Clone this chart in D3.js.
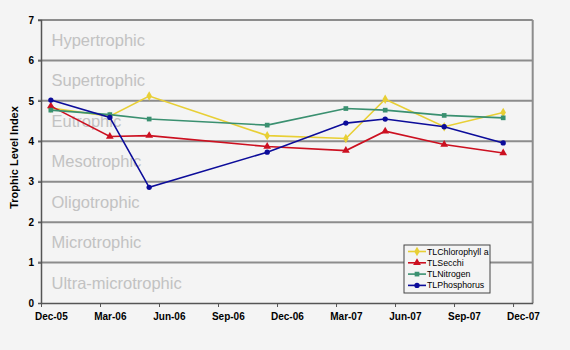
<!DOCTYPE html>
<html><head><meta charset="utf-8">
<script src="https://cdn.jsdelivr.net/npm/d3@7"></script>
<style>
html,body{margin:0;padding:0;background:#f4f4f4;}
svg{display:block;font-family:"Liberation Sans",Arial,sans-serif;}
</style></head>
<body><svg id="c" width="570" height="350"></svg>
<script>
// Sampling months (YYYY-MM)
const months = ["2005-12","2006-03","2006-05","2006-11","2007-03","2007-05","2007-08","2007-11"];
const chlorophyll = [4.82, 4.62, 5.12, 4.14, 4.07, 5.04, 4.36, 4.71];
const secchi      = [4.87, 4.12, 4.14, 3.87, 3.77, 4.25, 3.92, 3.71];
const nitrogen    = [4.77, 4.66, 4.55, 4.40, 4.81, 4.77, 4.64, 4.58];
const phosphorus  = [5.02, 4.59, 2.86, 3.73, 4.45, 4.55, 4.36, 3.96];
const seriesNames = ["TLChlorophyll a","TLSecchi","TLNitrogen","TLPhosphorus"];
const xTickLabels = ["Dec-05","Mar-06","Jun-06","Sep-06","Dec-06","Mar-07","Jun-07","Sep-07","Dec-07"];
const yTicks = [0,1,2,3,4,5,6,7];
const bandLabels = ["Ultra-microtrophic","Microtrophic","Oligotrophic","Mesotrophic","Eutrophic","Supertrophic","Hypertrophic"];

const colors = ["#e8cf35","#cc1020","#3a9070","#0c0c9a"];
const shapes = [d3.symbolDiamond, d3.symbolTriangle, d3.symbolSquare, d3.symbolCircle];
const sizes = [26, 26, 22, 22];

const svg = d3.select("#c");
const L = 41, R = 532.7, T = 20, B = 303;
const startY = 2005, startM = 12;
const mIndex = s => { const [y,m] = s.split("-").map(Number); return (y-startY)*12 + (m-startM); };
const x = d3.scaleLinear().domain([0,25]).range([L,R]);
const y = d3.scaleLinear().domain([0,7]).range([B,T]);

// gridlines
svg.append("g").selectAll("line").data(yTicks.filter(d=>d>0)).join("line")
  .attr("x1",L-3).attr("x2",R).attr("y1",d=>y(d)).attr("y2",d=>y(d))
  .attr("stroke","#8c8c8c").attr("stroke-width",2);
// right border
svg.append("line").attr("x1",R).attr("x2",R).attr("y1",T).attr("y2",B)
  .attr("stroke","#8c8c8c").attr("stroke-width",2);

// band labels
svg.append("g").selectAll("text").data(bandLabels).join("text")
  .attr("x",51.5).attr("y",(d,i)=>(y(i)+y(i+1))/2).attr("dy","0.35em")
  .attr("fill","#c2c2c2").attr("font-size",16.5).text(d=>d);

// y axis
const yAxis = svg.append("g").attr("transform",`translate(${L},0)`)
  .call(d3.axisLeft(y).tickValues(yTicks).tickSize(3).tickPadding(4).tickFormat(d3.format("d")));
yAxis.select(".domain").attr("stroke","#555").attr("stroke-width",1.5);
yAxis.selectAll(".tick line").attr("stroke","#555");
yAxis.selectAll("text").attr("font-size",10).attr("font-weight","bold").attr("fill","#000")
  .attr("font-family","Liberation Sans, Arial, sans-serif");

// x axis
const xTickVals = xTickLabels.map((d,i)=>i*3);
const xAxis = svg.append("g").attr("transform",`translate(0,${B})`)
  .call(d3.axisBottom(x).tickValues(xTickVals).tickSize(4).tickSizeOuter(0).tickFormat((d,i)=>xTickLabels[i]));
xAxis.select(".domain").attr("stroke","#555").attr("stroke-width",1.5);
xAxis.selectAll(".tick line").attr("stroke","#555");
xAxis.selectAll("text").attr("font-size",10).attr("font-weight","bold").attr("fill","#000")
  .attr("font-family","Liberation Sans, Arial, sans-serif")
  .attr("dx", (x(1)-x(0))/2).attr("y",10);

// axis title
svg.append("text").attr("transform",`translate(18,${(T+B)/2-4}) rotate(-90)`)
  .attr("text-anchor","middle").attr("font-size",11).attr("font-weight","bold").text("Trophic Level Index");

// series
const all = [chlorophyll, secchi, nitrogen, phosphorus];
const line = d3.line().x(d=>x(d.m+0.5)).y(d=>y(d.v));
all.forEach((vals,k)=>{
  const pts = vals.map((v,i)=>({m:mIndex(months[i]), v}));
  svg.append("path").datum(pts).attr("d",line).attr("fill","none")
    .attr("stroke",colors[k]).attr("stroke-width",1.6);
  svg.append("g").selectAll("path").data(pts).join("path")
    .attr("transform",d=>`translate(${x(d.m+0.5)},${y(d.v)})`)
    .attr("d",d3.symbol().type(shapes[k]).size(sizes[k])).attr("fill",colors[k]);
});

// legend
const lg = svg.append("g").attr("transform","translate(404,245)");
lg.append("rect").attr("width",86).attr("height",48).attr("fill","#f4f4f4")
  .attr("stroke","#444").attr("stroke-width",1);
seriesNames.forEach((n,k)=>{
  const yy = 6.5 + k*11.3;
  lg.append("line").attr("x1",4).attr("x2",22).attr("y1",yy).attr("y2",yy)
    .attr("stroke",colors[k]).attr("stroke-width",1.6);
  lg.append("path").attr("transform",`translate(13,${yy})`)
    .attr("d",d3.symbol().type(shapes[k]).size(sizes[k])).attr("fill",colors[k]);
  lg.append("text").attr("x",23).attr("y",yy).attr("dy","0.35em")
    .attr("font-size",8.8).attr("fill","#000").text(n);
});
</script></body></html>
